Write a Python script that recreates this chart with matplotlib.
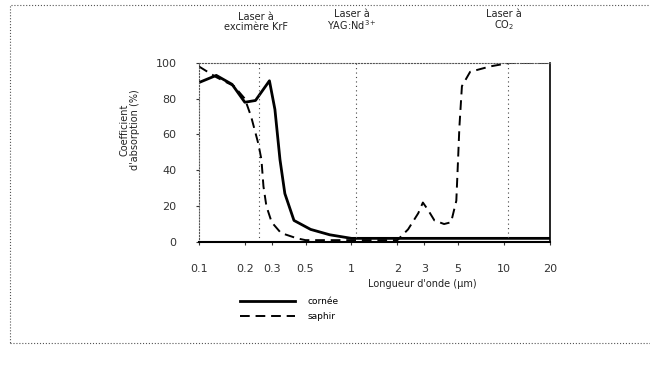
import matplotlib.pyplot as plt
from matplotlib.patches import Rectangle

# cornée (solid)
cornee_x = [0.1, 0.13, 0.165, 0.2, 0.235, 0.29, 0.315, 0.34, 0.366, 0.42, 0.54, 0.72, 1.0, 2.0, 5.0, 10.0, 20.0]
cornee_y = [89, 93, 88, 78, 79, 90, 74, 46, 27, 12, 7, 4, 2, 2, 2, 2, 2]

# saphir (dashed)
saphir_x = [0.1, 0.13, 0.17, 0.2, 0.22, 0.245, 0.257, 0.265, 0.277, 0.3, 0.345, 0.44, 0.5, 1.0, 2.0,
            2.35, 2.74, 2.94, 3.17, 3.5, 4.05, 4.5, 4.87, 5.0, 5.1, 5.3, 6.0, 8.1, 10.9, 20.0]
saphir_y = [98, 92, 87, 80, 70, 55, 46, 31, 20, 11, 5, 2, 1, 1, 1,
            7, 16, 22, 18, 12, 10, 11, 23, 46, 64, 87, 95, 98, 100, 100]

xticks = [0.1, 0.2, 0.3, 0.5, 1, 2, 3, 5, 10, 20]
xtick_labels = ['0.1', '0.2', '0.3', '0.5', '1', '2', '3', '5', '10', '20']
yticks = [0, 20, 40, 60, 80, 100]

lasers = [0.248, 1.064, 10.6]
laser_labels = ['Laser à\nexcimère KrF', 'Laser à\nYAG:Nd$^{3+}$', 'Laser à\nCO$_2$']
label_x = [0.235, 1.0, 10.0]

fig = plt.figure(figsize=(6.5, 3.81), dpi=100)
ax = fig.add_axes([0.306, 0.365, 0.54, 0.47])

ax.plot(cornee_x, cornee_y, color='black', lw=2.0, label='cornée')
ax.plot(saphir_x, saphir_y, color='black', lw=1.4, ls=(0, (5, 3)), label='saphir')

for x in lasers:
    ax.axvline(x, color='#444444', lw=0.8, ls=(0, (1, 3)))

ax.set_xscale('log')
ax.set_xlim(0.1, 20)
ax.set_ylim(0, 100)
ax.set_xticks(xticks)
ax.set_xticklabels(xtick_labels)
ax.minorticks_off()
ax.set_yticks(yticks)
ax.tick_params(labelsize=8, length=2, colors='#333333')
ax.tick_params(axis='x', pad=14)
ax.tick_params(axis='y', pad=14)

for s in ['left', 'top']:
    ax.spines[s].set_linestyle(':')
    ax.spines[s].set_color('#555555')
ax.spines['bottom'].set_linewidth(1.5)
ax.spines['right'].set_linewidth(1.2)

for x, t in zip(label_x, laser_labels):
    ax.text(x, 1.17, t, transform=ax.get_xaxis_transform(), ha='center', va='bottom',
            fontsize=7, color='#222222', linespacing=1.0)

fig.text(0.2, 0.66, "Coefficient\nd'absorption (%)", rotation=90, ha='center', va='center',
         fontsize=7, color='#222222', linespacing=1.1)
fig.text(0.65, 0.255, "Longueur d'onde (µm)", ha='center', va='center', fontsize=7, color='#222222')

ax.legend(loc='upper left', bbox_to_anchor=(0.108, -0.29), frameon=False, fontsize=6.5,
          handlelength=6, handletextpad=1.4, labelspacing=0.6, borderaxespad=0)

fig.add_artist(Rectangle((0.015, 0.1), 1.0, 0.887, transform=fig.transFigure, fill=False,
                         ls=':', lw=0.8, color='#555555'))

fig.savefig('out.png', dpi=100)
